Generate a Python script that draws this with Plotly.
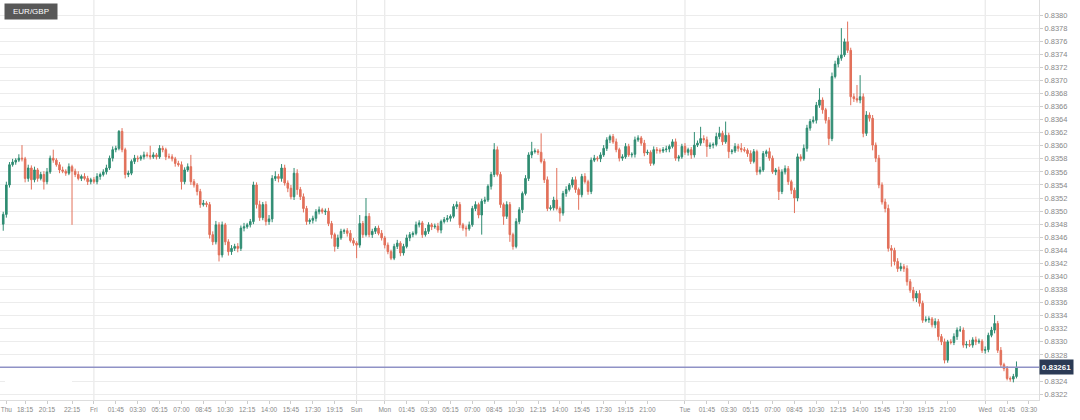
import plotly.graph_objects as go

symbol = "EUR/GBP"
last_price = 0.83261
first_open = 83480  # in 1e-5 units

# Closing prices per 15-minute candle, in units of 0.00001
closes = [
    83495,83540,83571,83575,83578,83581,83580,83550,83566,83548,83563,83550,83556,83545,83560,83581,83578,83571,83563,83561,83558,83568,83561,83556,83550,
    83553,83550,83545,83548,83545,83553,83556,83560,83566,83581,83594,83596,83622,83594,83556,83558,83576,83581,83580,83583,83586,83585,83583,83586,83583,
    83596,83594,83583,83583,83580,83573,83571,83545,83563,83568,83545,83540,83530,83510,83512,83510,83464,83453,83479,83433,83479,83453,83438,83443,83446,
    83443,83474,83476,83479,83484,83540,83510,83490,83510,83484,83488,83550,83553,83550,83566,83543,83535,83522,83558,83533,83522,83504,83484,83486,83489,
    83499,83502,83499,83500,83481,83464,83446,83459,83469,83470,83466,83455,83451,83448,83481,83464,83492,83464,83469,83474,83466,83459,83448,83438,83428,
    83446,83451,83436,83446,83459,83464,83466,83479,83482,83464,83469,83479,83476,83477,83471,83484,83487,83489,83492,83507,83510,83479,83474,83473,83479,
    83504,83510,83494,83515,83517,83538,83556,83594,83556,83510,83492,83510,83464,83446,83484,83502,83527,83550,83586,83591,83592,83590,83576,83548,83504,
    83505,83517,83504,83497,83527,83533,83540,83548,83533,83525,83553,83545,83530,83578,83581,83580,83586,83596,83609,83614,83606,83594,83581,83583,83599,
    83586,83587,83609,83612,83604,83589,83590,83573,83594,83593,83592,83594,83595,83599,83606,83581,83583,83599,83590,83594,83586,83601,83604,83611,83609,
    83599,83601,83602,83614,83619,83606,83616,83591,83592,83599,83596,83594,83593,83588,83576,83591,83560,83563,83588,83591,83581,83560,83563,83530,83560,
    83565,83545,83532,83520,83583,83580,83596,83627,83637,83639,83662,83670,83655,83639,83611,83706,83725,83734,83739,83759,83746,83675,83672,83670,83675,
    83619,83647,83642,83601,83581,83540,83514,83504,83443,83440,83423,83412,83415,83412,83392,83379,83367,83374,83359,83333,83334,83335,83326,83331,83308,
    83300,83272,83300,83299,83308,83318,83318,83295,83296,83295,83303,83300,83301,83287,83288,83310,83318,83328,83287,83265,83259,83244,83243,83247,83261,
]

# Upper wick length above the body, in units of 0.00001
wick_up = [
    4,5,4,5,3,6,20,3,5,4,5,3,4,5,6,4,13,3,4,5,3,5,3,4,5,
    3,5,4,3,4,5,3,4,5,4,5,4,2,5,3,4,3,5,4,3,5,4,15,4,3,
    5,4,3,5,4,3,4,5,4,5,18,4,3,4,5,3,4,5,6,4,5,3,4,5,4,
    5,4,6,3,4,5,4,6,4,5,6,5,8,4,6,5,4,5,8,6,4,5,4,3,4,
    4,5,3,4,5,4,3,5,4,3,4,5,4,3,13,4,28,5,4,3,4,5,3,4,3,
    4,5,3,4,5,4,3,5,4,3,5,4,3,4,5,3,4,5,3,4,5,4,3,4,5,
    4,5,3,4,5,3,4,10,5,4,3,5,4,3,5,4,3,5,4,15,4,3,29,4,5,
    4,5,49,3,4,5,3,4,5,3,4,5,3,4,5,3,4,5,4,3,4,5,3,4,5,
    4,3,5,4,3,5,4,3,5,4,3,4,5,3,4,5,3,4,5,3,4,20,4,18,5,
    5,4,3,6,10,4,21,4,3,5,4,8,4,3,5,4,3,5,4,3,6,4,3,5,4,
    5,4,3,4,5,4,6,5,4,6,5,18,4,3,5,6,5,4,41,5,31,4,5,21,33,
    5,6,4,5,4,5,4,5,6,5,4,5,6,4,5,4,5,4,5,4,5,4,3,5,4,
    4,5,3,4,5,4,6,4,5,7,4,5,4,3,5,4,5,13,4,5,3,4,3,4,9,
]

# Lower wick length below the body, in units of 0.00001
wick_dn = [
    10,5,4,3,4,3,4,6,5,15,4,5,3,12,4,3,4,3,5,3,4,3,82,4,3,
    4,3,5,4,3,4,5,3,4,3,5,4,3,4,6,4,3,4,5,3,4,3,4,3,4,
    3,4,5,3,4,5,3,12,4,3,5,4,6,5,3,4,6,5,4,10,4,5,6,5,4,
    6,4,5,3,4,4,6,5,4,6,5,5,4,6,5,4,6,4,5,8,5,6,5,4,5,
    5,4,3,5,4,6,8,4,3,4,5,3,4,20,4,5,3,4,5,4,3,4,5,4,3,
    3,4,5,4,3,5,4,3,4,5,3,4,5,3,4,5,3,4,5,3,4,5,4,12,3,
    3,4,5,30,4,3,5,4,3,5,13,4,11,5,3,4,5,3,4,5,3,4,3,5,4,
    3,4,3,13,4,5,3,4,5,23,4,3,5,4,3,4,5,3,4,5,3,4,5,4,3,
    3,4,5,3,4,5,3,4,3,5,4,3,4,5,3,4,5,3,4,5,6,4,3,4,5,
    16,4,5,3,4,5,3,10,4,3,5,4,3,5,4,3,5,4,3,5,4,3,5,13,4,
    4,5,6,23,5,4,3,5,4,3,5,4,6,5,10,4,3,5,4,3,4,13,5,4,5,
    6,4,5,8,6,5,4,6,5,25,6,5,4,5,6,4,5,6,5,4,3,5,4,5,6,
    5,5,4,3,4,5,3,4,5,3,4,5,3,4,5,4,3,5,4,5,4,3,4,5,3,
]

tick_idx = [1,7,14,22,29,36,43,50,57,64,71,78,85,92,99,106,113,122,129,136,143,150,157,164,171,178,185,192,199,206,
            218,225,232,239,246,253,260,267,274,281,288,295,302,314,321,328]
tick_text = ["Thu","18:15","20:15","22:15","Fri","01:45","03:30","05:15","07:00","08:45","10:30","12:15","14:00","15:45","17:30","19:15",
             "Sun","Mon","01:45","03:30","05:15","07:00","08:45","10:30","12:15","14:00","15:45","17:30","19:15","21:00",
             "Tue","01:45","03:30","05:15","07:00","08:45","10:30","12:15","14:00","15:45","17:30","19:15","21:00","Wed","01:45","03:30"]
day_idx = [29, 113, 122, 218, 314]
# Price axis labels (0.8326 sits under the last-price tag in the source)
y_ticks = [0.8322, 0.8324, 0.8328, 0.8330, 0.8332, 0.8334, 0.8336, 0.8338, 0.8340, 0.8342, 0.8344, 0.8346,
           0.8348, 0.8350, 0.8352, 0.8354, 0.8356, 0.8358, 0.8360, 0.8362, 0.8364, 0.8366, 0.8368, 0.8370,
           0.8372, 0.8374, 0.8376, 0.8378, 0.8380]

assert len(closes) == len(wick_up) == len(wick_dn), (len(closes), len(wick_up), len(wick_dn))
assert len(tick_idx) == len(tick_text)

scale = 1e5
c = [v / scale for v in closes]
o = [first_open / scale] + c[:-1]
h = [max(a, b) + w / scale for a, b, w in zip(o, c, wick_up)]
l = [min(a, b) - w / scale for a, b, w in zip(o, c, wick_dn)]
x = list(range(len(c)))

GREEN = "#2f8c72"
RED = "#e2705a"
FONT = "Liberation Sans, Arial, sans-serif"

fig = go.Figure()
fig.add_trace(go.Candlestick(
    x=x, open=o, high=h, low=l, close=c,
    increasing=dict(line=dict(color=GREEN, width=1), fillcolor=GREEN),
    decreasing=dict(line=dict(color=RED, width=1), fillcolor=RED),
    whiskerwidth=0, hoverinfo="skip",
))

shapes = []
for d in day_idx:
    shapes.append(dict(type="line", xref="x", yref="paper", x0=d, x1=d, y0=0, y1=1,
                       line=dict(color="#e4e4e4", width=1), layer="below"))
shapes.append(dict(type="line", xref="paper", yref="y", x0=0, x1=1, y0=last_price, y1=last_price,
                   line=dict(color="#8f92c6", width=1.5), layer="above"))
shapes.append(dict(type="rect", xref="paper", yref="paper", x0=5/1039, x1=72/1039, y0=0.02, y1=0.0575,
                   fillcolor="white", line=dict(width=0), layer="above"))

fig.update_layout(
    width=1080, height=420,
    margin=dict(l=0, r=41, t=0, b=20),
    paper_bgcolor="white", plot_bgcolor="white",
    showlegend=False, hovermode=False, boxgap=0.28,
    font=dict(family=FONT, color="#888888"),
    shapes=shapes,
    xaxis=dict(
        range=[-1.03, 331.2], rangeslider=dict(visible=False),
        tickmode="array", tickvals=tick_idx, ticktext=tick_text, tickangle=0,
        tickfont=dict(size=6.5, color="#888888"),
        ticks="outside", ticklen=3, tickcolor="#cccccc",
        showgrid=False, zeroline=False,
        showline=True, linecolor="#dddddd", linewidth=1,
    ),
    yaxis=dict(
        side="right", range=[0.83211, 0.83823],
        tickmode="array", tickvals=y_ticks, tickformat=".4f",
        tickfont=dict(size=7.5, color="#888888"),
        ticks="outside", ticklen=3, tickcolor="#cccccc",
        showgrid=True, gridcolor="#ececec", gridwidth=1,
        zeroline=False, showline=True, linecolor="#dddddd", linewidth=1,
    ),
    annotations=[
        dict(xref="paper", yref="paper", x=4/1039, y=1 - 3/400, xanchor="left", yanchor="top",
             text=symbol, showarrow=False, bgcolor="#585858", width=50, height=13,
             font=dict(size=8, color="white", family=FONT)),
        dict(xref="paper", yref="y", x=1, y=last_price, xanchor="left", yanchor="middle",
             text="<b>%.5f</b>" % last_price, showarrow=False, bgcolor="#2b3a55", width=31, height=12,
             font=dict(size=8, color="white", family=FONT)),
    ],
)

fig.write_html("out.html", config={"displayModeBar": False},
               post_script="document.body.style.margin='0';document.body.style.overflow='hidden';")
